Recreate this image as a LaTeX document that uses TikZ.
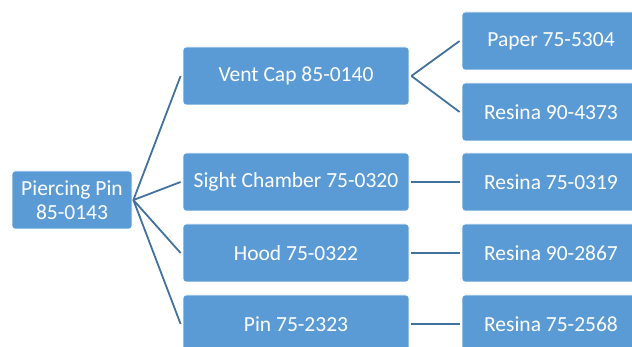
\documentclass[tikz,border=0pt]{standalone}
\usepackage{fontspec}
\setmainfont{Carlito}
\definecolor{boxfill}{HTML}{5B9BD5}
\definecolor{linkblue}{HTML}{41719C}
\begin{document}
\begin{tikzpicture}[x=1pt,y=-1pt,
  item/.style={rectangle, rounded corners=3pt, fill=boxfill, draw=white,
    line width=0.8pt, text=white, inner sep=0pt, align=center,
    font=\fontsize{21.5}{23.5}\selectfont},
  rootbox/.style={item, minimum width=120pt, minimum height=58pt},
  midbox/.style={item, minimum width=226pt, minimum height=58pt},
  leafbox/.style={item, minimum width=178pt, minimum height=58pt},
  link/.style={draw=linkblue, line width=1.8pt}]
\useasboundingbox (0,0) rectangle (632,347);
\clip (0,0) rectangle (632,347);

% root
\node[rootbox] (root) at (72,200) {Piercing Pin\\85-0143};

% second level
\node[midbox] (vent)  at (296,76)  {Vent Cap 85-0140};
\node[midbox] (sight) at (296,182) {Sight Chamber 75-0320};
\node[midbox] (hood)  at (296,253) {Hood 75-0322};
\node[midbox] (pin)   at (296,324) {Pin 75-2323};

% third level
\node[leafbox] (paper) at (551,41)  {Paper 75-5304};
\node[leafbox] (r4373) at (551,112) {Resina 90-4373};
\node[leafbox] (r0319) at (551,182) {Resina 75-0319};
\node[leafbox] (r2867) at (551,253) {Resina 90-2867};
\node[leafbox] (r2568) at (551,324) {Resina 75-2568};

% connectors
\foreach \t in {vent,sight,hood,pin}
  \draw[link] ([xshift=1pt]root.east) -- ([xshift=-2pt]\t.west);
\foreach \t in {paper,r4373}
  \draw[link] ([xshift=2pt]vent.east) -- ([xshift=-2pt]\t.west);
\draw[link] ([xshift=2pt]sight.east) -- ([xshift=-2pt]r0319.west);
\draw[link] ([xshift=2pt]hood.east) -- ([xshift=-2pt]r2867.west);
\draw[link] ([xshift=2pt]pin.east) -- ([xshift=-2pt]r2568.west);
\end{tikzpicture}
\end{document}
